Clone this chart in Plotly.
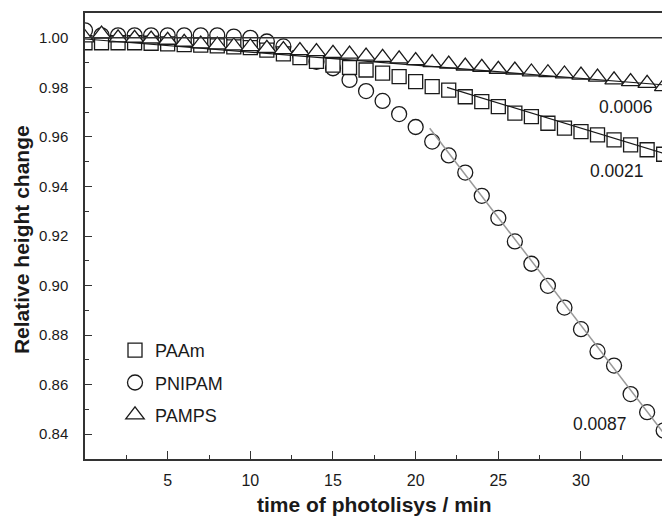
import plotly.graph_objects as go

# ---- data ----
time_min = list(range(0, 36))

paam = [0.9980, 0.9980, 0.9980, 0.9980, 0.9978, 0.9975, 0.9972, 0.9970, 0.9967, 0.9963,
        0.9960, 0.9950, 0.9935, 0.9920, 0.9905, 0.9890, 0.9880, 0.9870, 0.9857, 0.9843,
        0.9823, 0.9803, 0.9789, 0.9762, 0.9742, 0.9722, 0.9696, 0.9682, 0.9655, 0.9635,
        0.9621, 0.9608, 0.9588, 0.9568, 0.9548, 0.9530]

pnipam = [1.0030, 1.0010, 1.0010, 1.0010, 1.0010, 1.0010, 1.0010, 1.0010, 1.0010, 1.0005,
          1.0000, 0.9985, 0.9965, 0.9930, 0.9903, 0.9877, 0.9830, 0.9785, 0.9745, 0.9692,
          0.9640, 0.9581, 0.9525, 0.9456, 0.9362, 0.9273, 0.9178, 0.9088, 0.8999, 0.8911,
          0.8824, 0.8734, 0.8677, 0.8562, 0.8489, 0.8415]

pamps = [1.0000, 1.0015, 1.0000, 0.9998, 0.9995, 0.9990, 0.9982, 0.9975, 0.9971, 0.9967,
         0.9964, 0.9957, 0.9952, 0.9948, 0.9944, 0.9937, 0.9934, 0.9926, 0.9921, 0.9915,
         0.9908, 0.9900, 0.9894, 0.9886, 0.9881, 0.9873, 0.9870, 0.9862, 0.9859, 0.9854,
         0.9849, 0.9841, 0.9830, 0.9823, 0.9816, 0.9803]

# linear fits drawn in the figure (end points)
fit_pamps_x = [0, 35]
fit_pamps_y = [0.9995, 0.9810]
fit_paam_x = [21.9, 35]
fit_paam_y = [0.9800, 0.9533]
fit_pnipam_x = [20.85, 35]
fit_pnipam_y = [0.9635, 0.8404]
ref_x = [0, 35]
ref_y = [1.0, 1.0]

slope_labels = ["0.0006", "0.0021", "0.0087"]
slope_label_x = [32.72, 32.18, 31.15]
slope_label_y = [0.9721, 0.9462, 0.8441]

x_tickvals = [5, 10, 15, 20, 25, 30]
x_minor = [2.5, 7.5, 12.5, 17.5, 22.5, 27.5, 32.5]
y_tickvals = [0.84, 0.86, 0.88, 0.90, 0.92, 0.94, 0.96, 0.98, 1.00]
y_minor = [0.85, 0.87, 0.89, 0.91, 0.93, 0.95, 0.97, 0.99]

FONT = "Liberation Sans, Arial, sans-serif"
INK = "#1a1a1a"
AX = "#333333"

fig = go.Figure()

mk_line = dict(color=INK, width=1.3)

fig.add_trace(go.Scatter(x=time_min, y=pnipam, mode="markers", name="PNIPAM",
                         legendrank=2, legendgroup="b",
                         marker=dict(symbol="circle", size=15, color="white", line=mk_line)))
fig.add_trace(go.Scatter(x=time_min, y=paam, mode="markers", name="PAAm",
                         legendrank=1, legendgroup="a",
                         marker=dict(symbol="square", size=14, color="white", line=mk_line)))
fig.add_trace(go.Scatter(x=time_min, y=pamps, mode="markers", name="PAMPS",
                         legendrank=3, legendgroup="c",
                         marker=dict(symbol="triangle-up", size=16, color="white", line=mk_line)))

fig.add_trace(go.Scatter(x=ref_x, y=ref_y, mode="lines", showlegend=False,
                         line=dict(color=AX, width=1.5)))
fig.add_trace(go.Scatter(x=fit_pamps_x, y=fit_pamps_y, mode="lines", showlegend=False,
                         line=dict(color=INK, width=1.2)))
fig.add_trace(go.Scatter(x=fit_paam_x, y=fit_paam_y, mode="lines", showlegend=False,
                         line=dict(color=INK, width=1.2)))
fig.add_trace(go.Scatter(x=fit_pnipam_x, y=fit_pnipam_y, mode="lines", showlegend=False,
                         line=dict(color="#999999", width=1.5)))

for t, lx, ly in zip(slope_labels, slope_label_x, slope_label_y):
    fig.add_annotation(x=lx, y=ly, xref="x", yref="y", text=t, showarrow=False,
                       font=dict(family=FONT, size=17.5, color=INK),
                       xanchor="center", yanchor="middle")

fig.add_annotation(x=-0.111, y=0.493, xref="paper", yref="paper",
                   text="<b>Relative height change</b>", textangle=-90, showarrow=False,
                   font=dict(family=FONT, size=21, color=INK),
                   xanchor="center", yanchor="middle")
fig.add_annotation(x=0.5009, y=-0.101, xref="paper", yref="paper",
                   text="<b>time of photolisys / min</b>", showarrow=False,
                   font=dict(family=FONT, size=21, color=INK),
                   xanchor="center", yanchor="middle")

fig.update_layout(
    width=662, height=516,
    margin=dict(l=85, r=0, t=13, b=57),
    paper_bgcolor="white", plot_bgcolor="white",
    font=dict(family=FONT, color=INK),
    showlegend=True,
    legend=dict(x=0.052, y=0.285, xanchor="left", yanchor="top",
                bgcolor="rgba(0,0,0,0)", font=dict(family=FONT, size=18, color=INK),
                tracegroupgap=6, itemwidth=30),
    xaxis=dict(range=[0, 34.9], showgrid=False, zeroline=False,
               showline=True, linecolor=AX, linewidth=1.5, mirror=True,
               tickmode="array", tickvals=x_tickvals, ticks="inside", ticklen=8,
               tickwidth=1.3, tickcolor=AX,
               tickfont=dict(family=FONT, size=16, color=INK), ticklabelstandoff=6,
               minor=dict(tickmode="array", tickvals=x_minor, ticks="inside",
                          ticklen=4, tickwidth=1.3, tickcolor=AX)),
    yaxis=dict(range=[0.83, 1.01], showgrid=False, zeroline=False,
               showline=True, linecolor=AX, linewidth=1.5, mirror=False,
               tickmode="array", tickvals=y_tickvals, tickformat=".2f",
               ticks="inside", ticklen=7, tickwidth=1.3, tickcolor=AX,
               tickfont=dict(family=FONT, size=15, color=INK), ticklabelstandoff=12,
               minor=dict(tickmode="array", tickvals=y_minor, ticks="inside",
                          ticklen=4, tickwidth=1.3, tickcolor=AX)),
)

fig.write_html("out.html")
